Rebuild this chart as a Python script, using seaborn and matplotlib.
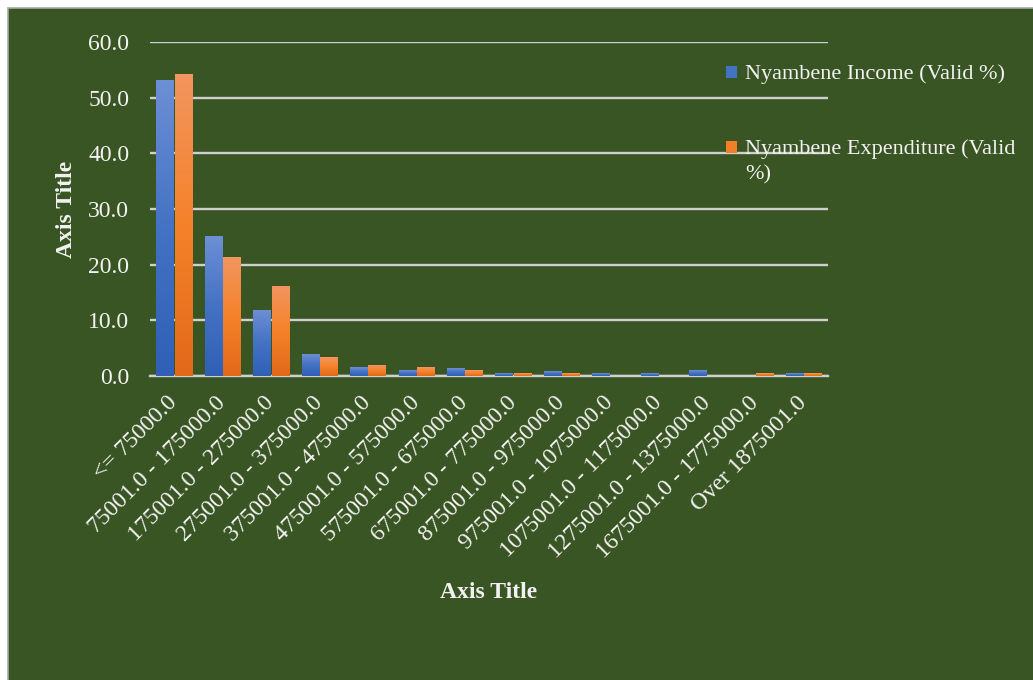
import numpy as np
import pandas as pd
import matplotlib
matplotlib.use("Agg")
import matplotlib.pyplot as plt
from matplotlib.colors import LinearSegmentedColormap
from matplotlib.patches import Rectangle
import seaborn as sns

# Income brackets (KES) and the share of respondents in each
categories = [
    "<= 75000.0", "75001.0 - 175000.0", "175001.0 - 275000.0",
    "275001.0 - 375000.0", "375001.0 - 475000.0", "475001.0 - 575000.0",
    "575001.0 - 675000.0", "675001.0 - 775000.0", "875001.0 - 975000.0",
    "975001.0 - 1075000.0", "1075001.0 - 1175000.0", "1275001.0 - 1375000.0",
    "1675001.0 - 1775000.0", "Over 1875001.0",
]
income_pct = [53.0, 25.1, 11.7, 3.8, 1.6, 1.0, 1.4, 0.4, 0.8, 0.4, 0.4, 1.0, 0.0, 0.4]
expenditure_pct = [54.2, 21.2, 16.0, 3.4, 1.9, 1.6, 1.0, 0.4, 0.4, 0.0, 0.0, 0.0, 0.4, 0.4]
series_names = ["Nyambene Income (Valid %)", "Nyambene Expenditure (Valid %)"]
yticks = [0, 10, 20, 30, 40, 50, 60]

BG = "#3a5524"
TXT = "#f2f2f2"
GRID = "#cfcfcf"
FS = 17

df = pd.DataFrame({
    "bracket": categories * 2,
    "series": [series_names[0]] * len(categories) + [series_names[1]] * len(categories),
    "value": income_pct + expenditure_pct,
})

sns.set_theme(style="white")
plt.rcParams["font.family"] = ["Liberation Serif", "DejaVu Serif"]

fig = plt.figure(figsize=(10.33, 6.8), dpi=100, facecolor="white")
# green chart panel with a thin grey border
fig.add_artist(Rectangle((8 / 1033, -0.01), 1.0, 1 - 8 / 680 + 0.01,
                         transform=fig.transFigure, facecolor=BG,
                         edgecolor="#a8a8a8", linewidth=1.2, zorder=0))

ax = fig.add_axes([150 / 1033, 1 - 376 / 680, (828 - 150) / 1033, (376 - 42) / 680])
ax.set_facecolor("none")

palette = {series_names[0]: "#4472c4", series_names[1]: "#f07f27"}
sns.barplot(data=df, x="bracket", y="value", hue="series", order=categories,
            hue_order=series_names, palette=palette, width=0.76, gap=0.06,
            linewidth=0, ax=ax, legend=False, zorder=3)

# vertical light-to-dark fill on every bar
grad_maps = [
    LinearSegmentedColormap.from_list("inc", ["#2f60b6", "#4472c4", "#6d8fd5"]),
    LinearSegmentedColormap.from_list("exp", ["#e1691a", "#f5822a", "#f2955f"]),
]
grad = np.linspace(0, 1, 256).reshape(-1, 1)
n = len(categories)
for i, patch in enumerate(list(ax.patches)[: 2 * n]):
    h = patch.get_height()
    if h <= 0:
        continue
    x0 = patch.get_x()
    w = patch.get_width()
    ax.imshow(grad, extent=[x0, x0 + w, 0, h], origin="lower", aspect="auto",
              cmap=grad_maps[i // n], zorder=4, interpolation="bilinear")

ax.set_xlim(-0.5, n - 0.5)
ax.set_ylim(0, 60)
ax.set_yticks(yticks)
ax.set_yticklabels([f"{v:.1f}" for v in yticks], color=TXT, fontsize=FS)
ax.yaxis.grid(True, color=GRID, linewidth=1.7, zorder=1)
ax.set_axisbelow(True)
for s in ["top", "right", "left"]:
    ax.spines[s].set_visible(False)
ax.spines["bottom"].set_color(GRID)
ax.spines["bottom"].set_linewidth(1.7)
ax.tick_params(axis="y", length=0, pad=15)
ax.tick_params(axis="x", length=0, pad=17)
ax.set_xticks(range(n))
ax.set_xticklabels(categories, rotation=45, ha="right", va="center",
                   rotation_mode="anchor", color=TXT, fontsize=FS)

ax.set_xlabel("Axis Title", color=TXT, fontsize=FS, fontweight="bold")
ax.xaxis.label.set_va("center")
ax.xaxis.set_label_coords(0.5, -(592 - 376) / 334)
ax.set_ylabel("Axis Title", color=TXT, fontsize=FS, fontweight="bold")
ax.yaxis.label.set_va("center")
ax.yaxis.set_label_coords((67 - 150) / 678, 0.5)

# legend entries
leg_items = [
    (palette[series_names[0]], "Nyambene Income (Valid %)", 72),
    (palette[series_names[1]], "Nyambene Expenditure (Valid\n%)", 147),
]
for color, label, yc in leg_items:
    fig.add_artist(Rectangle((726 / 1033, 1 - (yc + 5.5) / 680), 11 / 1033, 11 / 680,
                             transform=fig.transFigure, facecolor=color,
                             edgecolor="none", zorder=5))
    fig.text(745 / 1033, 1 - (yc - 8) / 680, label, color=TXT, fontsize=16,
             ha="left", va="top", linespacing=1.45, zorder=5)

fig.savefig("out.png", dpi=100, facecolor=fig.get_facecolor())
